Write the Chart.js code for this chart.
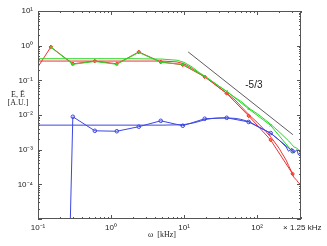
<!DOCTYPE html>
<html><head><meta charset="utf-8">
<script src="https://cdn.jsdelivr.net/npm/chart.js@4/dist/chart.umd.min.js"></script>
<style>html,body{margin:0;padding:0;background:#fff}canvas{display:block}</style>
</head><body>
<canvas id="c" width="327" height="246"></canvas>
<script>
// frequency grid of the smooth spectra (x 1.25 kHz)
const xSmooth = [0.1, 0.2, 0.5, 1, 2, 5, 8, 10, 13, 16, 20, 25, 30, 40, 50, 60, 80, 100, 130, 160, 200, 250, 270, 300, 320, 350, 370, 400];
const redSmooth   = [0.36,0.36,0.36,0.36,0.36,0.36,0.34,0.30,0.22,0.16,0.12,0.085,0.062,0.040,0.027,0.018,0.0095,0.0062,0.0035,0.0021,0.0011,0.0005,0.00035,0.00022,0.00016,0.00013,0.00011,0.0001];
const greenSmooth = [0.42,0.42,0.42,0.42,0.42,0.41,0.38,0.33,0.24,0.17,0.125,0.09,0.068,0.045,0.032,0.025,0.015,0.011,0.0072,0.005,0.0033,0.0021,0.0018,0.0014,0.0012,0.0011,0.0010,0.0009];
const blueSmooth  = [0.0051,0.0051,0.0051,0.0051,0.0051,0.0051,0.0052,0.0053,0.0058,0.0065,0.0075,0.008,0.0082,0.0082,0.008,0.0075,0.0063,0.0048,0.0036,0.0028,0.0019,0.0012,0.0009,0.0011,0.0008,0.0010,0.0007,0.0009];
// octave-spaced (marker) spectra
const xOctRed   = [0.1, 0.15, 0.3, 0.6, 1.2, 2.4, 4.8, 9.6, 19.2, 38.4, 76.8, 153.6, 307];
const redOct    = [0.245, 0.92, 0.30, 0.36, 0.30, 0.66, 0.34, 0.28, 0.126, 0.042, 0.0094, 0.0019, 0.0002];
const xOctGreen = [0.15, 0.3, 0.6, 1.2, 2.4, 4.8, 9.6, 19.2, 38.4, 76.8, 153.6, 307];
const greenOct  = [0.90, 0.29, 0.35, 0.29, 0.64, 0.33, 0.29, 0.13, 0.048, 0.015, 0.005, 0.00086];
const xOctBlue  = [0.27, 0.3, 0.6, 1.2, 2.4, 4.8, 9.6, 19.2, 38.4, 76.8, 153.6, 307];
const blueOct   = [0.000001, 0.0089, 0.0035, 0.0034, 0.0046, 0.0068, 0.0049, 0.0078, 0.0083, 0.0063, 0.003, 0.0009];
// -5/3 reference slope
const xSlope = [11.4, 310];
const ySlope = [0.66, 0.0027];
const xTickExp = [-1, 0, 1, 2];
const yTickExp = [-4, -3, -2, -1, 0, 1];

const pts = (xs, ys) => xs.map((x, i) => ({x, y: ys[i]}));
const sup = {'-':'\u207B','0':'\u2070','1':'\u00B9','2':'\u00B2','3':'\u00B3','4':'\u2074','5':'\u2075'};
const pow10 = e => '10' + String(e).split('').map(c => sup[c]).join('');

const RED = 'rgb(240,50,50)', GREEN = 'rgb(40,215,40)', BLUE = 'rgb(60,70,225)';

const framePlugin = {
  id: 'frame',
  afterDraw(chart) {
    const {ctx, chartArea: a, scales: {x, y}} = chart;
    ctx.save();
    ctx.strokeStyle = '#555';
    ctx.lineWidth = 1;
    ctx.strokeRect(a.left + 0.5, a.top + 0.5, a.right - a.left - 1, a.bottom - a.top - 1);
    ctx.beginPath();
    for (let e = -1; e <= 2; e++) {
      for (let m = 1; m <= 9; m++) {
        const v = m * Math.pow(10, e);
        if (v < x.min || v > x.max) continue;
        const px = Math.round(x.getPixelForValue(v)) + 0.5;
        const L = m === 1 ? 4 : 2;
        ctx.moveTo(px, a.bottom); ctx.lineTo(px, a.bottom - L);
        ctx.moveTo(px, a.top); ctx.lineTo(px, a.top + L);
      }
    }
    for (let e = -5; e <= 1; e++) {
      for (let m = 1; m <= 9; m++) {
        const v = m * Math.pow(10, e);
        if (v < y.min || v > y.max) continue;
        const py = Math.round(y.getPixelForValue(v)) + 0.5;
        const L = m === 1 ? 4 : 2;
        ctx.moveTo(a.left, py); ctx.lineTo(a.left + L, py);
        ctx.moveTo(a.right, py); ctx.lineTo(a.right - L, py);
      }
    }
    ctx.stroke();
    // annotations
    ctx.fillStyle = '#222';
    ctx.font = '10px "Liberation Sans", Arial, sans-serif';
    ctx.textBaseline = 'middle';
    ctx.textAlign = 'left';
    ctx.fillText('-5/3', x.getPixelForValue(69), y.getPixelForValue(0.074));
    ctx.font = '8px "Liberation Sans", Arial, sans-serif';
    ctx.fillText('\u00D7 1.25 kHz', 283, 228);
    ctx.font = '8px "Liberation Serif", "Times New Roman", serif';
    ctx.textAlign = 'center';
    ctx.fillText('\u03C9  [kHz]', 162, 235);
    ctx.fillText('E, \u1EBC', 18, 95);
    ctx.fillText('[A.U.]', 18, 103);
    ctx.restore();
  }
};

new Chart(document.getElementById('c'), {
  type: 'scatter',
  data: {
    datasets: [
      {data: pts(xSlope, ySlope), showLine: true, borderColor: '#333', borderWidth: 0.8, pointRadius: 0},
      {data: pts(xSmooth, blueSmooth), showLine: true, borderColor: BLUE, borderWidth: 1, pointRadius: 0},
      {data: pts(xOctBlue, blueOct), showLine: true, borderColor: BLUE, borderWidth: 1,
        pointRadius: xOctBlue.map((v, i) => i === 0 ? 0 : 1.8), pointStyle: 'circle',
        pointBackgroundColor: 'rgba(255,255,255,0)', pointBorderColor: BLUE, pointBorderWidth: 1},
      {data: pts(xSmooth, greenSmooth), showLine: true, borderColor: GREEN, borderWidth: 1, pointRadius: 0},
      {data: pts(xOctGreen, greenOct), showLine: true, borderColor: GREEN, borderWidth: 1,
        pointRadius: 1.5, pointStyle: 'crossRot', pointBorderColor: GREEN, pointBorderWidth: 1},
      {data: pts(xSmooth, redSmooth), showLine: true, borderColor: RED, borderWidth: 1, pointRadius: 0},
      {data: pts(xOctRed, redOct), showLine: true, borderColor: RED, borderWidth: 1,
        pointRadius: xOctRed.map((v, i) => i === 0 ? 0 : 1.8), pointStyle: 'rectRot',
        pointBackgroundColor: 'rgb(250,120,60)', pointBorderColor: RED, pointBorderWidth: 1}
    ]
  },
  options: {
    responsive: false,
    animation: false,
    devicePixelRatio: 1,
    layout: {padding: {left: 0, right: 26, top: 11, bottom: 0}},
    plugins: {legend: {display: false}, tooltip: {enabled: false}},
    elements: {line: {tension: 0}},
    scales: {
      x: {
        type: 'logarithmic', min: 0.1, max: 400,
        grid: {display: false, drawTicks: false}, border: {display: false},
        afterBuildTicks: s => { s.ticks = xTickExp.map(e => ({value: Math.pow(10, e)})); },
        afterFit: s => { s.height = 27; },
        ticks: {autoSkip: false, maxRotation: 0, padding: 4, color: '#222',
          font: {size: 8, family: '"Liberation Sans", Arial, sans-serif'},
          callback: v => pow10(Math.round(Math.log10(v)))}
      },
      y: {
        type: 'logarithmic', min: 1e-5, max: 10,
        grid: {display: false, drawTicks: false}, border: {display: false},
        afterBuildTicks: s => { s.ticks = yTickExp.map(e => ({value: Math.pow(10, e)})); },
        afterFit: s => { s.width = 38; },
        ticks: {autoSkip: false, padding: 5, color: '#222',
          font: {size: 8, family: '"Liberation Sans", Arial, sans-serif'},
          callback: v => pow10(Math.round(Math.log10(v)))}
      }
    }
  },
  plugins: [framePlugin]
});
</script>
</body></html>
